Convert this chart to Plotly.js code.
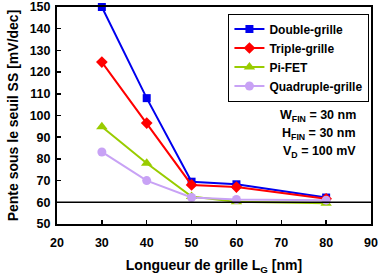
<!DOCTYPE html>
<html>
<head>
<meta charset="utf-8">
<script src="https://cdn.plot.ly/plotly-3.0.1.min.js"></script>
<style>
  html, body { margin: 0; padding: 0; background: #fff; }
  #chart { width: 378px; height: 275px; }
</style>
</head>
<body>
<div id="chart"></div>
<script>
// Gate length (nm)
const gateLength = [30, 40, 50, 60, 80];

// Subthreshold slope (mV/dec) per device architecture
const doubleGate = [150, 108, 69.5, 68.3, 62.2];
const tripleGate = [124.6, 96.5, 68, 67, 61.6];
const piFet = [94.8, 78, 62.7, 60.2, 59.6];
const quadGate = [83.2, 70, 62.2, 61.3, 61];

const seriesNames = ['Double-grille', 'Triple-grille', 'Pi-FET', 'Quadruple-grille'];
const idealSlope = 60;

const font = "Arial, 'Liberation Sans', sans-serif";

function series(name, y, color, symbol, size) {
  return {
    x: gateLength, y: y, name: name, type: 'scatter', mode: 'lines+markers',
    line: { color: color, width: 2 },
    marker: { color: color, symbol: symbol, size: size },
    cliponaxis: false
  };
}

const data = [
  series(seriesNames[0], doubleGate, '#0000ee', 'square', 8),
  series(seriesNames[1], tripleGate, '#ff0000', 'diamond', 9),
  series(seriesNames[2], piFet, '#99cc00', 'triangle-up', 10),
  series(seriesNames[3], quadGate, '#c8a2f5', 'circle', 9)
];

const layout = {
  width: 378, height: 275,
  margin: { l: 57, r: 7, t: 7, b: 51 },
  paper_bgcolor: '#fff', plot_bgcolor: '#fff',
  font: { family: font, size: 12, color: '#000', weight: 'bold' },
  showlegend: true,
  legend: {
    x: 0.995, xanchor: 'right', y: 0.97, yanchor: 'top',
    bordercolor: '#000', borderwidth: 1, bgcolor: '#fff',
    font: { family: font, size: 12, color: '#000', weight: 'bold' },
    tracegroupgap: 0, itemwidth: 30
  },
  xaxis: {
    range: [20, 90], dtick: 10, tick0: 20,
    showgrid: false, zeroline: false,
    showline: true, linecolor: '#000', linewidth: 2, mirror: true,
    ticks: 'inside', ticklen: 4, tickwidth: 1.5, tickcolor: '#000',
    ticklabelstandoff: 6, ticklabeloverflow: 'allow',
    tickfont: { family: font, size: 12.5, weight: 'bold' },
    title: { text: 'Longueur de grille L<sub>G</sub> [nm]', font: { family: font, size: 14, weight: 'bold' }, standoff: 15 }
  },
  yaxis: {
    range: [50, 150], dtick: 10, tick0: 50,
    showgrid: false, zeroline: false,
    showline: true, linecolor: '#000', linewidth: 2, mirror: true,
    ticks: 'inside', ticklen: 4, tickwidth: 1.5, tickcolor: '#000',
    ticklabelstandoff: 2, ticklabeloverflow: 'allow',
    tickfont: { family: font, size: 12.5, weight: 'bold' },
    title: { text: 'Pente sous le seuil SS [mV/dec]', font: { family: font, size: 14, weight: 'bold' }, standoff: 8 }
  },
  shapes: [{
    type: 'line', xref: 'paper', x0: 0, x1: 1, yref: 'y', y0: idealSlope, y1: idealSlope,
    line: { color: '#000', width: 1.5 }
  }],
  annotations: [
    { text: 'W<sub>FIN</sub> = 30 nm', xref: 'paper', yref: 'paper', x: 0.96, y: 0.5, xanchor: 'right', yanchor: 'middle', showarrow: false, font: { family: font, size: 12.5, weight: 'bold' } },
    { text: 'H<sub>FIN</sub> = 30 nm', xref: 'paper', yref: 'paper', x: 0.96, y: 0.417, xanchor: 'right', yanchor: 'middle', showarrow: false, font: { family: font, size: 12.5, weight: 'bold' } },
    { text: 'V<sub>D</sub> = 100 mV', xref: 'paper', yref: 'paper', x: 0.96, y: 0.334, xanchor: 'right', yanchor: 'middle', showarrow: false, font: { family: font, size: 12.5, weight: 'bold' } }
  ]
};

Plotly.newPlot('chart', data, layout, { displayModeBar: false, staticPlot: true });
</script>
</body>
</html>
